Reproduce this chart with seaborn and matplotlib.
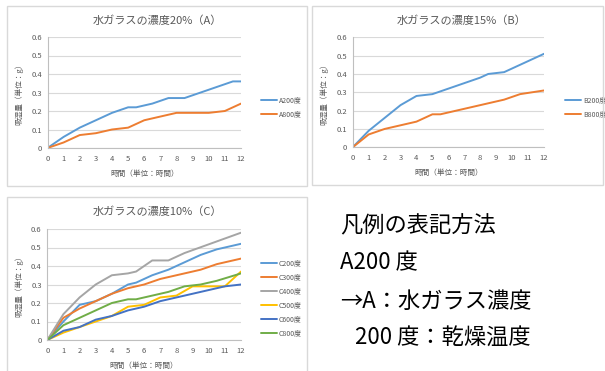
import pandas as pd
import seaborn as sns
import matplotlib.pyplot as plt
from matplotlib.patches import Rectangle

# ---- data ----
A200_x = [0, 1, 2, 3, 4, 5, 5.5, 6.5, 7.5, 8.5, 9.5, 10.5, 11.5, 12]
A200_y = [0, 0.06, 0.11, 0.15, 0.19, 0.22, 0.22, 0.24, 0.27, 0.27, 0.30, 0.33, 0.36, 0.36]
A800_x = [0, 1, 2, 3, 4, 5, 6, 6.5, 7, 8, 9, 10, 11, 12]
A800_y = [0, 0.03, 0.07, 0.08, 0.10, 0.11, 0.15, 0.16, 0.17, 0.19, 0.19, 0.19, 0.20, 0.24]

B200_x = [0, 1, 2, 3, 4, 5, 6, 7, 8, 8.5, 9.5, 10.5, 11.5, 12]
B200_y = [0, 0.09, 0.16, 0.23, 0.28, 0.29, 0.32, 0.35, 0.38, 0.40, 0.41, 0.45, 0.49, 0.51]
B800_x = [0, 1, 2, 3, 4, 5, 5.5, 6, 7, 8, 8.5, 9.5, 10.5, 12]
B800_y = [0, 0.07, 0.10, 0.12, 0.14, 0.18, 0.18, 0.19, 0.21, 0.23, 0.24, 0.26, 0.29, 0.31]

C200_x = [0, 1, 2, 3, 4, 5, 5.5, 6.5, 7.5, 8.5, 9.5, 10.5, 12]
C200_y = [0, 0.10, 0.19, 0.21, 0.25, 0.30, 0.31, 0.35, 0.38, 0.42, 0.46, 0.49, 0.52]
C300_x = [0, 1, 2, 3, 4, 5, 6, 7, 8, 9.5, 10.5, 12]
C300_y = [0, 0.12, 0.17, 0.21, 0.25, 0.28, 0.30, 0.33, 0.35, 0.38, 0.41, 0.44]
C400_x = [0, 1, 2, 3, 4, 5, 5.5, 6.5, 7.5, 8.5, 12]
C400_y = [0, 0.14, 0.23, 0.30, 0.35, 0.36, 0.37, 0.43, 0.43, 0.47, 0.58]
C500_x = [0, 1, 2, 3, 4, 5, 5.5, 6, 7, 7.5, 8, 9, 10, 11, 12]
C500_y = [0, 0.04, 0.07, 0.10, 0.13, 0.18, 0.185, 0.19, 0.23, 0.235, 0.24, 0.29, 0.29, 0.29, 0.37]
C600_x = [0, 1, 2, 3, 4, 5, 6, 7, 8, 9, 10, 11, 12]
C600_y = [0, 0.05, 0.07, 0.11, 0.13, 0.16, 0.18, 0.21, 0.23, 0.25, 0.27, 0.29, 0.30]
C800_x = [0, 1, 2, 3, 4, 5, 5.5, 6.5, 7.5, 8.5, 9.5, 10.5, 12]
C800_y = [0, 0.08, 0.12, 0.16, 0.20, 0.22, 0.22, 0.24, 0.26, 0.29, 0.30, 0.32, 0.36]

x_ticks = list(range(0, 13))
y_ticks = [0, 0.1, 0.2, 0.3, 0.4, 0.5, 0.6]
y_ticklabels = ["0", "0.1", "0.2", "0.3", "0.4", "0.5", "0.6"]

sns.set_theme(style="white")
plt.rcParams['font.family'] = ['Noto Sans CJK JP', 'DejaVu Sans']

W, H = 605, 371
fig = plt.figure(figsize=(W / 100, H / 100), dpi=100)

TXT = "#595959"
GRID = "#D9D9D9"


def px_axes(x0, y0, x1, y1):
    # pixel box (left, top, right, bottom) -> axes
    return fig.add_axes([x0 / W, 1 - y1 / H, (x1 - x0) / W, (y1 - y0) / H])


def frame(x0, y0, x1, y1):
    fig.add_artist(Rectangle((x0 / W, 1 - y1 / H), (x1 - x0) / W, (y1 - y0) / H,
                             transform=fig.transFigure, fill=False,
                             edgecolor="#D9D9D9", lw=1.0))


def series_df(items):
    rows = []
    for name, xs, ys in items:
        for x, y in zip(xs, ys):
            rows.append({"time": x, "value": y, "series": name})
    return pd.DataFrame(rows)


def chart(ax, df, colors, title, tx, ty, leg_x, leg_y):
    sns.lineplot(data=df, x="time", y="value", hue="series", palette=colors,
                 estimator=None, sort=False, lw=1.4, ax=ax)
    ax.set_xlim(0, 12)
    ax.set_ylim(0, 0.6)
    ax.set_xticks(x_ticks)
    ax.set_yticks(y_ticks)
    ax.set_yticklabels(y_ticklabels)
    ax.tick_params(axis="both", length=0, labelsize=5.5, labelcolor=TXT)
    ax.tick_params(axis="x", pad=5)
    ax.tick_params(axis="y", pad=4)
    ax.grid(axis="y", color=GRID, lw=0.8)
    ax.set_axisbelow(True)
    for s in ["top", "right"]:
        ax.spines[s].set_visible(False)
    for s in ["left", "bottom"]:
        ax.spines[s].set_color("#BFBFBF")
        ax.spines[s].set_linewidth(0.8)
    ax.set_xlabel("時間（単位：時間）", fontsize=5.5, color=TXT)
    ax.set_ylabel("吸湿量（単位：g）", fontsize=5.5, color=TXT)
    ax.xaxis.set_label_coords(0.5, -0.2)
    ax.yaxis.set_label_coords(-0.125, 0.5)
    h, l = ax.get_legend_handles_labels()
    ax.legend(h, l, loc="upper left", bbox_to_anchor=(leg_x / W, 1 - leg_y / H),
              bbox_transform=fig.transFigure, frameon=False, fontsize=5,
              labelcolor=TXT, handlelength=2.2, handletextpad=0.3,
              labelspacing=0.85, borderpad=0)
    fig.text(tx / W, 1 - ty / H, title, ha="center", va="center",
             fontsize=8, color=TXT)


# chart frames
frame(7, 6, 307, 186)
frame(312, 6, 603, 185)
frame(7, 197, 307, 373)

# A
axA = px_axes(47.5, 37, 241, 148)
dfA = series_df([("A200度", A200_x, A200_y), ("A800度", A800_x, A800_y)])
chart(axA, dfA, ["#5B9BD5", "#ED7D31"], "水ガラスの濃度20%（A）", 157, 21, 258, 93)

# B
axB = px_axes(352.7, 37.3, 544, 147.3)
dfB = series_df([("B200度", B200_x, B200_y), ("B800度", B800_x, B800_y)])
chart(axB, dfB, ["#5B9BD5", "#ED7D31"], "水ガラスの濃度15%（B）", 462, 21, 562, 93)

# C
axC = px_axes(47.3, 229, 241, 340)
dfC = series_df([("C200度", C200_x, C200_y), ("C300度", C300_x, C300_y),
                 ("C400度", C400_x, C400_y), ("C500度", C500_x, C500_y),
                 ("C600度", C600_x, C600_y), ("C800度", C800_x, C800_y)])
chart(axC, dfC, ["#5B9BD5", "#ED7D31", "#A5A5A5", "#FFC000", "#4472C4", "#70AD47"],
      "水ガラスの濃度10%（C）", 157, 212, 258, 256)

# legend explanation text
notes = ["凡例の表記方法", "A200 度", "→A：水ガラス濃度", "200 度：乾燥温度"]
note_x = [340, 340, 340, 355]
note_y = [226, 263, 301, 337]
for t, x, y in zip(notes, note_x, note_y):
    fig.text(x / W, 1 - y / H, t, ha="left", va="center", fontsize=16, color="#000000")

fig.savefig("out.png", dpi=100)
